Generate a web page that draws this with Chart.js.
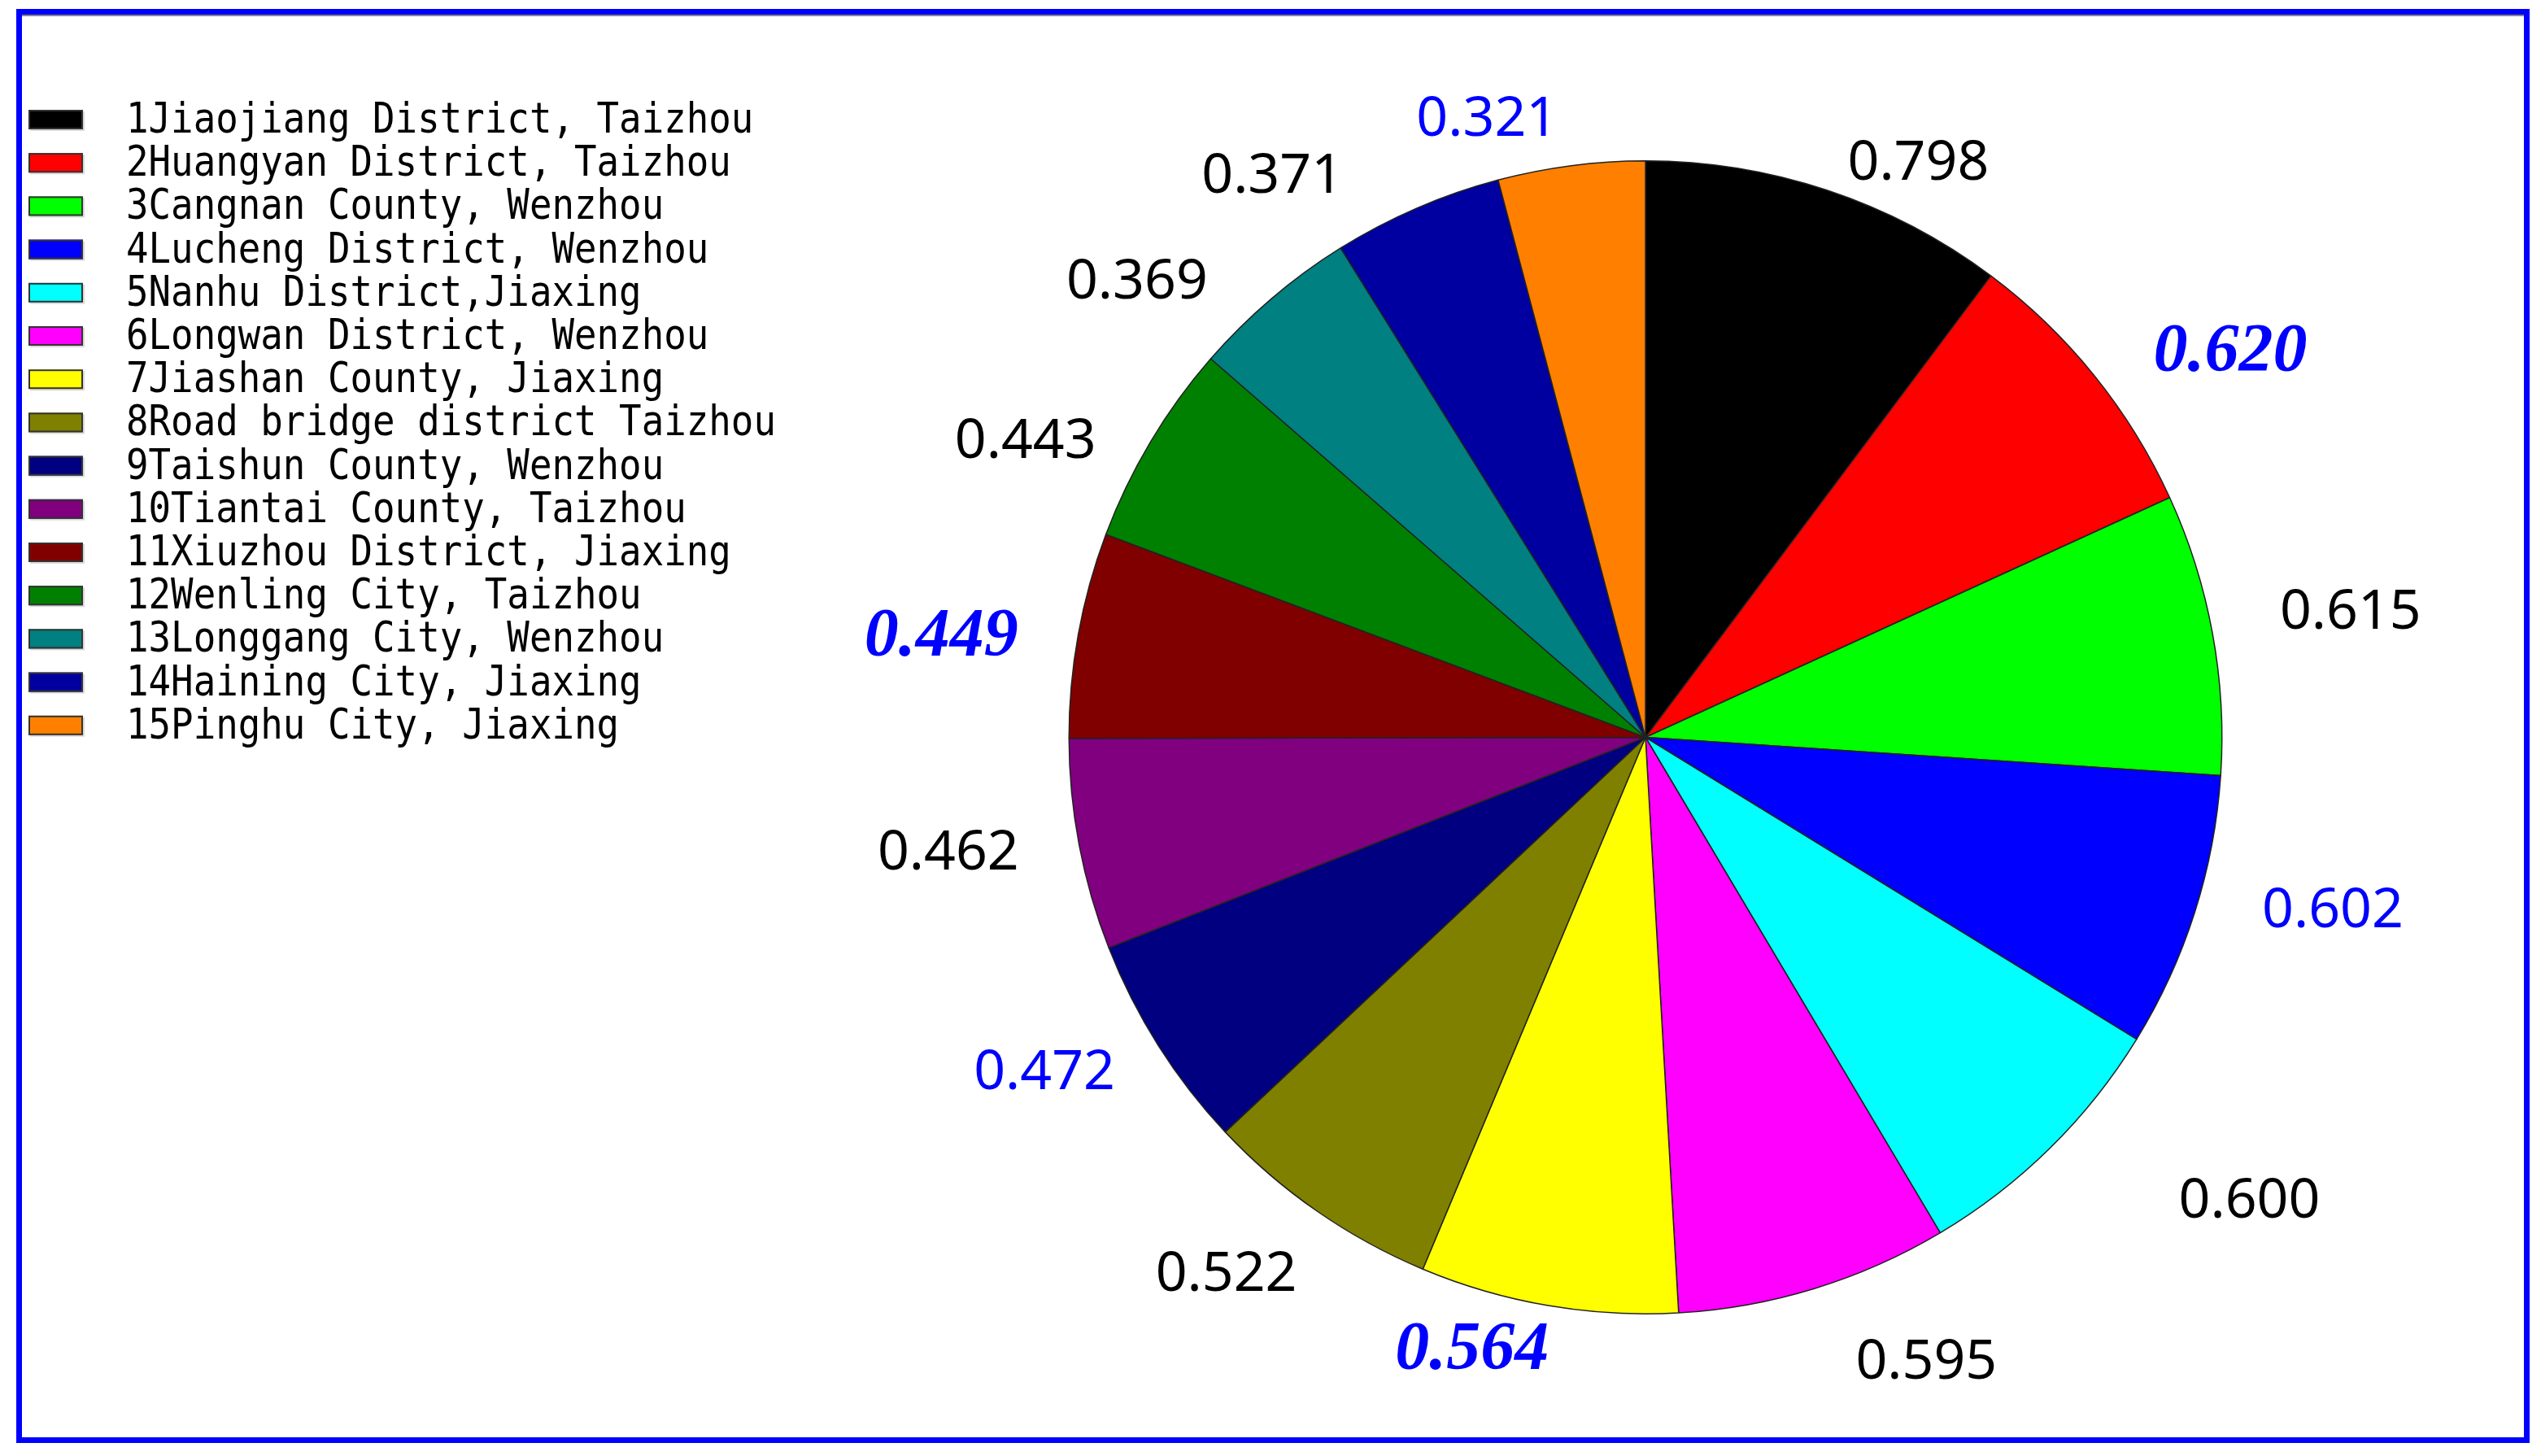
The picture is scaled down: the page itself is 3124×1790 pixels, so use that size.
<!DOCTYPE html>
<html><head><meta charset="utf-8">
<script src="https://cdn.jsdelivr.net/npm/chart.js@4/dist/chart.umd.min.js"></script>
<style>html,body{margin:0;padding:0;background:#fff;overflow:hidden}canvas{display:block}</style>
</head><body><canvas id="c" width="3124" height="1790"></canvas>
<script>
const categories = [
  "1Jiaojiang District, Taizhou",
  "2Huangyan District, Taizhou",
  "3Cangnan County, Wenzhou",
  "4Lucheng District, Wenzhou",
  "5Nanhu District,Jiaxing",
  "6Longwan District, Wenzhou",
  "7Jiashan County, Jiaxing",
  "8Road bridge district Taizhou",
  "9Taishun County, Wenzhou",
  "10Tiantai County, Taizhou",
  "11Xiuzhou District, Jiaxing",
  "12Wenling City, Taizhou",
  "13Longgang City, Wenzhou",
  "14Haining City, Jiaxing",
  "15Pinghu City, Jiaxing"
];
const values = [0.798, 0.620, 0.615, 0.602, 0.600, 0.595, 0.564, 0.522, 0.472, 0.462, 0.449, 0.443, 0.369, 0.371, 0.321];
const sliceColors = ["#000000","#FF0000","#00FF00","#0000FF","#00FFFF","#FF00FF","#FFFF00","#808000","#000080","#800080","#800000","#008000","#008080","#0000A0","#FF8000"];
const labelStyles = ["black","blueBI","black","blue","black","black","blueBI","black","blue","black","blueBI","black","black","black","blue"];
const labelNudgeDeg = [6.9, 5.2, 0.1, -3.8, -8.1, -7.3, 6.2, 3.4, 3.4, 1.6, -1.8, -5.1, -7.5, -10.1, -6.9];
const labelDistRatio = [1.107, 1.219, 1.243, 1.228, 1.317, 1.183, 1.098, 1.177, 1.191, 1.225, 1.235, 1.194, 1.188, 1.174, 1.112];

const framePlugin = {
  id: 'frame',
  beforeDraw(chart) {
    const ctx = chart.ctx;
    ctx.save();
    ctx.fillStyle = '#ffffff';
    ctx.fillRect(0, 0, chart.width, chart.height);
    ctx.fillStyle = '#888888';
    ctx.fillRect(26, 18, 3078, 2);
    ctx.strokeStyle = '#0000FF';
    ctx.lineWidth = 7;
    ctx.strokeRect(23.5, 14.5, 3083, 1756);
    ctx.restore();
  }
};

const labelPlugin = {
  id: 'valueLabels',
  afterDatasetsDraw(chart) {
    const ctx = chart.ctx;
    const meta = chart.getDatasetMeta(0);
    ctx.save();
    meta.data.forEach((arc, i) => {
      const p = arc.getProps(['x','y','startAngle','endAngle','outerRadius'], true);
      const mid = (p.startAngle + p.endAngle) / 2 + labelNudgeDeg[i] * Math.PI / 180;
      const d = labelDistRatio[i] * p.outerRadius;
      const cx = p.x + Math.cos(mid) * d;
      const cy = p.y + Math.sin(mid) * d;
      const txt = values[i].toFixed(3);
      const st = labelStyles[i];
      let capH;
      if (st === 'blueBI') {
        ctx.font = 'italic bold 84px "Liberation Serif"';
        ctx.fillStyle = '#0000FF';
        capH = 0.68 * 84;
      } else {
        ctx.font = '68px "Noto Sans"';
        ctx.fillStyle = st === 'blue' ? '#0000FF' : '#000000';
        capH = 0.714 * 68;
      }
      ctx.textAlign = 'center';
      ctx.textBaseline = 'alphabetic';
      ctx.fillText(txt, cx, cy + capH / 2);
    });
    ctx.restore();
  }
};

const legendPlugin = {
  id: 'sideLegend',
  afterDraw(chart) {
    const ctx = chart.ctx;
    ctx.save();
    categories.forEach((name, i) => {
      const yc = 147 + i * 53.2;
      ctx.fillStyle = 'rgba(0,0,0,0.15)';
      ctx.fillRect(37, yc - 10, 67, 24);
      ctx.fillStyle = sliceColors[i];
      ctx.fillRect(35, yc - 12, 67, 24);
      ctx.strokeStyle = '#333333';
      ctx.lineWidth = 2;
      ctx.strokeRect(36, yc - 11, 65, 22);
      ctx.save();
      ctx.translate(155, yc + 16);
      ctx.scale(0.88, 1);
      ctx.font = '52px "DejaVu Sans Mono"';
      ctx.fillStyle = '#000000';
      ctx.textAlign = 'left';
      ctx.textBaseline = 'alphabetic';
      ctx.fillText(name, 0, 0);
      ctx.restore();
    });
    ctx.restore();
  }
};

new Chart(document.getElementById('c'), {
  type: 'pie',
  data: {
    labels: categories,
    datasets: [{
      data: values,
      backgroundColor: sliceColors,
      borderColor: '#222222',
      borderWidth: 1.5
    }]
  },
  options: {
    responsive: false,
    devicePixelRatio: 1,
    animation: false,
    layout: { padding: { left: 1313, right: 391, top: 197, bottom: 174 } },
    plugins: {
      legend: { display: false },
      tooltip: { enabled: false },
      title: { display: false }
    }
  },
  plugins: [framePlugin, labelPlugin, legendPlugin]
});
</script>
</body></html>
